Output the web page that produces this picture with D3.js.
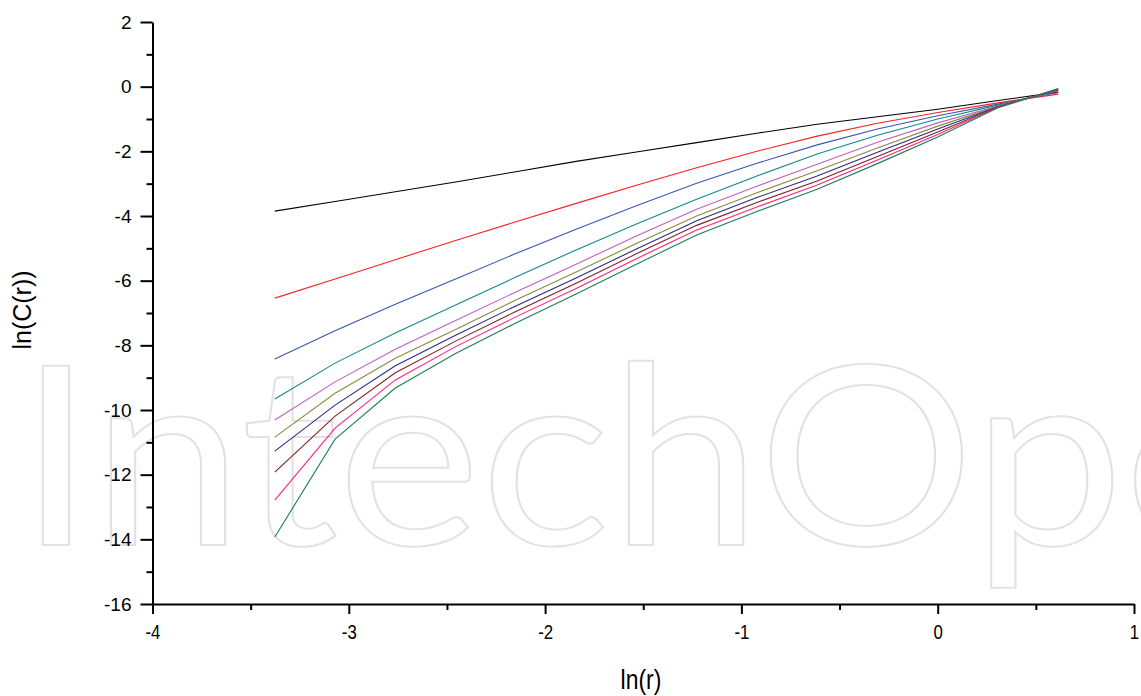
<!DOCTYPE html>
<html>
<head>
<meta charset="utf-8">
<title>ln(C(r)) vs ln(r)</title>
<script src="https://d3js.org/d3.v7.min.js"></script>
<style>
  body { margin: 0; background: #fff; }
  svg text { font-family: "Liberation Sans", Arial, sans-serif; fill: #000; }
</style>
</head>
<body>
<div id="chart"></div>
<script>
// ln(r) sample positions
var lnR = [-3.377, -3.070, -2.763, -2.456, -2.149, -1.842, -1.535, -1.228, -0.921, -0.614, -0.307, 0.0, 0.307, 0.614];

// ln(C(r)) curves, one per embedding dimension
var m1  = [-3.85, -3.55, -3.25, -2.95, -2.63, -2.31, -2.02, -1.73, -1.44, -1.16, -0.93, -0.70, -0.43, -0.17];
var m2  = [-6.54, -5.95, -5.35, -4.76, -4.18, -3.61, -3.05, -2.51, -2.00, -1.53, -1.13, -0.80, -0.50, -0.23];
var m3  = [-8.42, -7.55, -6.73, -5.95, -5.16, -4.41, -3.68, -2.99, -2.37, -1.80, -1.31, -0.90, -0.54, -0.18];
var m4  = [-9.66, -8.55, -7.62, -6.75, -5.89, -5.05, -4.25, -3.48, -2.76, -2.08, -1.50, -1.00, -0.57, -0.13];
var m5  = [-10.31, -9.13, -8.12, -7.23, -6.35, -5.49, -4.62, -3.79, -3.08, -2.40, -1.72, -1.12, -0.60, -0.11];
var m6  = [-10.84, -9.48, -8.40, -7.51, -6.60, -5.73, -4.85, -4.00, -3.28, -2.60, -1.90, -1.22, -0.61, -0.10];
var m7  = [-11.27, -9.85, -8.63, -7.69, -6.78, -5.92, -5.02, -4.15, -3.43, -2.76, -2.03, -1.31, -0.62, -0.09];
var m8  = [-11.92, -10.19, -8.85, -7.87, -6.95, -6.08, -5.17, -4.29, -3.58, -2.92, -2.16, -1.40, -0.63, -0.08];
var m9  = [-12.79, -10.56, -9.07, -8.04, -7.12, -6.24, -5.32, -4.43, -3.72, -3.04, -2.27, -1.48, -0.64, -0.07];
var m10 = [-13.93, -10.90, -9.32, -8.25, -7.31, -6.41, -5.49, -4.59, -3.86, -3.17, -2.38, -1.56, -0.65, -0.06];

var series = [m1, m2, m3, m4, m5, m6, m7, m8, m9, m10];
var colors = ["#000000", "#ff2020", "#3a55b5", "#108a8a", "#c060c0",
              "#8a8a40", "#2a2a8a", "#802020", "#ff2088", "#1a8050"];

var xTicks = [-4, -3, -2, -1, 0, 1];
var yTicks = [2, 0, -2, -4, -6, -8, -10, -12, -14, -16];

var width = 1141, height = 696;

// plain hyphen for negatives, as the plotting program prints them
function plain(d) { return String(d); }

var svg = d3.select("#chart").append("svg")
    .attr("width", width)
    .attr("height", height);

// faint outlined watermark behind the plot
svg.append("text")
    .attr("x", 18)
    .attr("y", 545)
    .attr("textLength", 1400)
    .attr("lengthAdjust", "spacingAndGlyphs")
    .style("font-family", "Lato, 'Open Sans', sans-serif")
    .style("font-size", "250px")
    .style("font-weight", "400")
    .style("fill", "none")
    .style("stroke", "#e2e2e2")
    .style("stroke-width", 2)
    .text("IntechOpen");

var x = d3.scaleLinear().domain([-4, 1]).range([152.5, 1134]);
var y = d3.scaleLinear().domain([-16, 2]).range([604, 22]);

// lines
var line = d3.line()
    .x(function(d, i) { return x(lnR[i]); })
    .y(function(d) { return y(d); });

svg.selectAll(".curve")
    .data(series)
    .enter().append("path")
    .attr("class", "curve")
    .attr("d", line)
    .style("fill", "none")
    .style("stroke", function(d, i) { return colors[i]; })
    .style("stroke-width", 1.1);

// y axis: major ticks with labels, minor ticks between them
var yAxis = svg.append("g")
    .attr("transform", "translate(" + x(-4) + ",0)")
    .call(d3.axisLeft(y).tickValues(yTicks).tickFormat(plain)
        .tickSize(12).tickSizeOuter(0).tickPadding(9));
svg.append("g")
    .attr("transform", "translate(" + x(-4) + ",0)")
    .call(d3.axisLeft(y).tickValues(d3.range(-15, 2, 2)).tickSize(6).tickFormat(""))
    .select(".domain").remove();

yAxis.selectAll("text").style("font-size", "19px");

// x axis
var xAxis = svg.append("g")
    .attr("transform", "translate(0," + y(-16) + ")")
    .call(d3.axisBottom(x).tickValues(xTicks).tickFormat(plain)
        .tickSize(10).tickSizeOuter(0).tickPadding(10));
svg.append("g")
    .attr("transform", "translate(0," + y(-16) + ")")
    .call(d3.axisBottom(x).tickValues([-3.5, -2.5, -1.5, -0.5, 0.5]).tickSize(6).tickFormat(""))
    .select(".domain").remove();

// x labels are a little condensed
xAxis.selectAll("text")
    .style("font-size", "21px")
    .attr("transform", "scale(0.8,1)");

svg.selectAll(".domain").style("stroke-width", 2);
svg.selectAll(".tick line").style("stroke-width", 2);

// axis titles
svg.append("text")
    .attr("transform", "translate(641,689) scale(0.85,1)")
    .attr("text-anchor", "middle")
    .style("font-size", "27px")
    .text("ln(r)");

svg.append("text")
    .attr("transform", "translate(31,310) rotate(-90)")
    .attr("text-anchor", "middle")
    .style("font-size", "25px")
    .text("ln(C(r))");
</script>
</body>
</html>
